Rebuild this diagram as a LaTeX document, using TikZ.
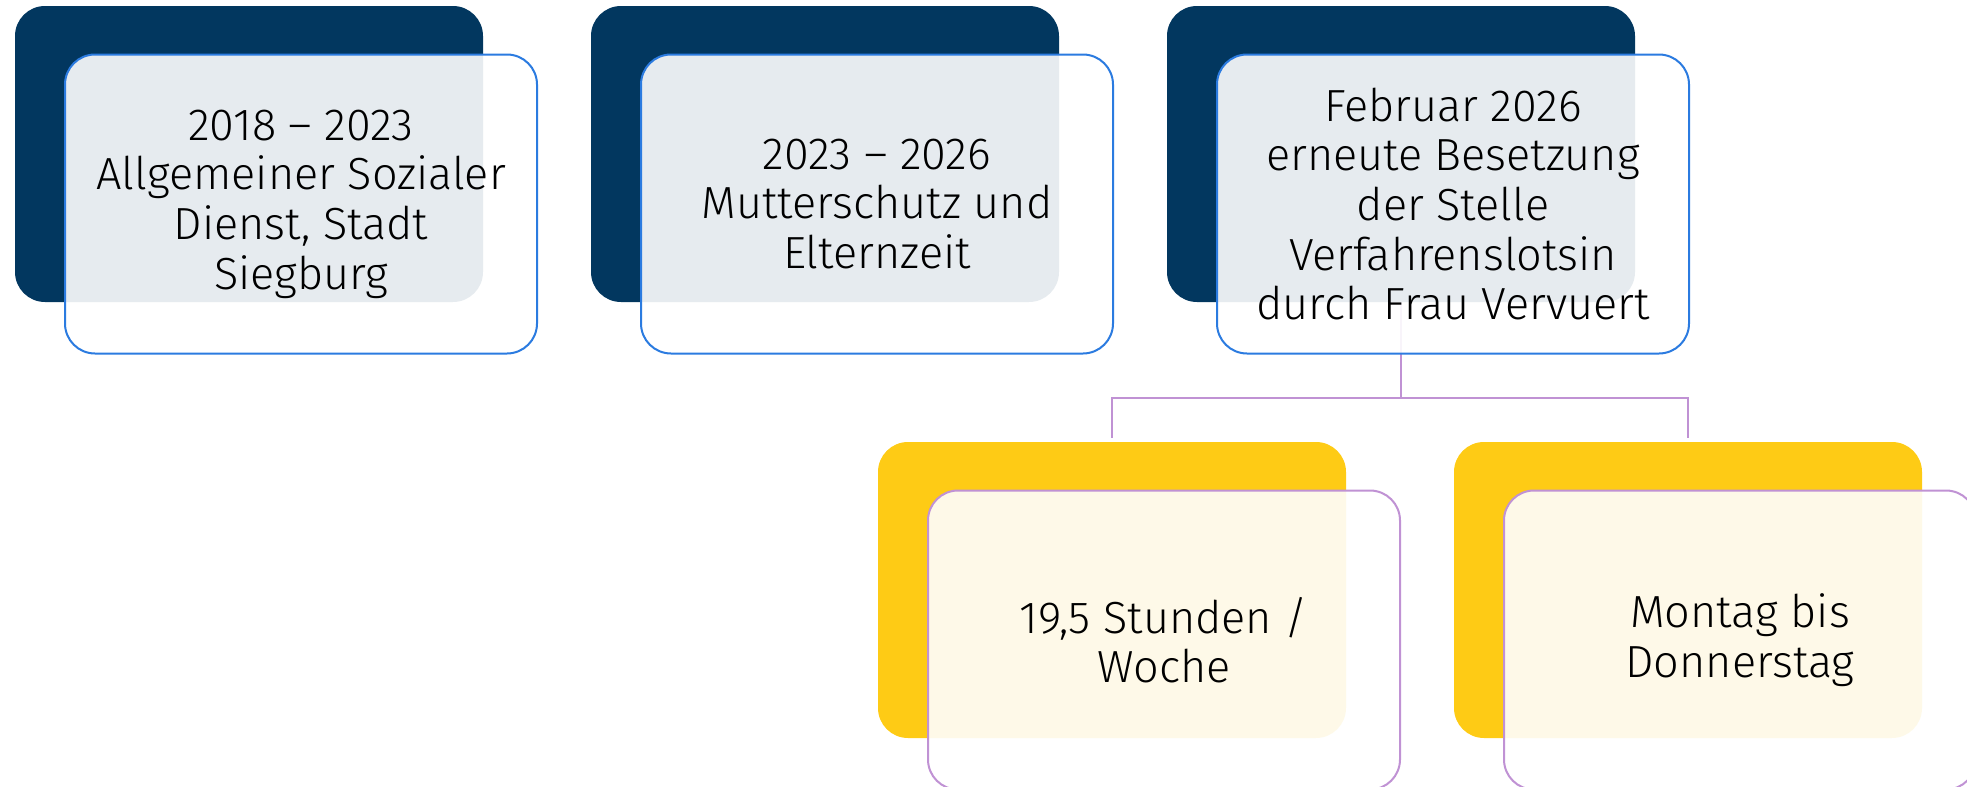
\documentclass[tikz,border=0pt]{standalone}
\usepackage{fontspec}
\setmainfont{Fira Sans Light}
\usetikzlibrary{positioning}
\definecolor{navyback}{HTML}{02375F}
\definecolor{blueline}{HTML}{2B7BE0}
\definecolor{yellowback}{HTML}{FECB15}
\definecolor{purpleline}{HTML}{C092D4}

\tikzset{
    backbox/.style={rounded corners=15pt, minimum width=234pt, minimum height=148pt, inner sep=0pt},
    frontbox/.style={rounded corners=15pt, minimum width=236pt, minimum height=149.5pt, fill=white,
        fill opacity=0.9, text opacity=1, line width=1pt, align=center, inner sep=0pt,
        font=\fontsize{22.5}{24.8}\selectfont},
    branch/.style={purpleline, line width=1pt}
}

\begin{document}
\begin{tikzpicture}[x=0.5pt,y=-0.5pt]
    \useasboundingbox (0,0) rectangle (1967,787);
    \clip (0,0) rectangle (1967,787);

    % dark boxes behind
    \node[backbox, fill=navyback] (navyA) at (249,154) {};
    \node[backbox, fill=navyback] (navyB) at (825,154) {};
    \node[backbox, fill=navyback] (navyC) at (1401,154) {};

    % yellow boxes behind
    \node[backbox, fill=yellowback] (yelA) at (1112,590) {};
    \node[backbox, fill=yellowback] (yelB) at (1688,590) {};

    % branches
    \coordinate (fork) at (1401,398);
    \draw[branch] (navyC.south) -- (fork);
    \draw[branch, shorten <=2pt] (yelA.north) |- (fork);
    \draw[branch, shorten >=2pt] (fork) -| (yelB.north);

    % front boxes
    \node[frontbox, draw=blueline] (timeA) at ([shift={(52,50)}]navyA)
        {2018 -- 2023\\Allgemeiner Sozialer\\Dienst, Stadt\\Siegburg};
    \node[frontbox, draw=blueline] (timeB) at ([shift={(52,50)}]navyB)
        {2023 -- 2026\\Mutterschutz und\\Elternzeit};
    \node[frontbox, draw=blueline] (timeC) at ([shift={(52,50)}]navyC)
        {Februar 2026\\erneute Besetzung\\der Stelle\\Verfahrenslotsin\\durch Frau Vervuert};

    \node[frontbox, draw=purpleline] (hours) at ([shift={(52,50)}]yelA)
        {19,5 Stunden /\\Woche};
    \node[frontbox, draw=purpleline] (days) at ([shift={(52,50)}]yelB)
        {Montag bis\\Donnerstag};
\end{tikzpicture}
\end{document}
